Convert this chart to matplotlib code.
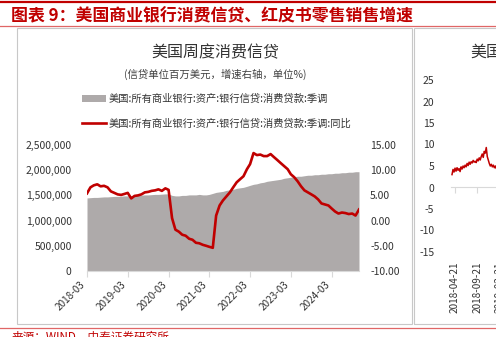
import matplotlib
matplotlib.use('Agg')
from matplotlib import pyplot as plt
from matplotlib.patches import Rectangle, Patch
from matplotlib.lines import Line2D
from matplotlib.ticker import FuncFormatter, MultipleLocator
import pandas as pd

plt.rcParams['font.family'] = ['Noto Sans CJK SC', 'DejaVu Sans']
plt.rcParams['axes.unicode_minus'] = False

RED = '#C00000'
GREY = '#AEAAAA'
LINE = '#D9D9D9'

# left chart: monthly, 2018-03 .. 2024-11
months = pd.date_range('2018-03-01', periods=81, freq='MS')
loans = [1.450, 1.455, 1.460, 1.460, 1.465, 1.470, 1.470, 1.475, 1.480, 1.480, 1.485, 1.490, 1.490,
         1.495, 1.500, 1.500, 1.505, 1.510, 1.510, 1.515, 1.520, 1.520, 1.525, 1.530, 1.530,
         1.500, 1.490, 1.490, 1.500, 1.500, 1.510, 1.510, 1.510, 1.520, 1.510, 1.510, 1.520,
         1.540, 1.560, 1.570, 1.580, 1.600, 1.610, 1.620, 1.640, 1.650, 1.660, 1.680, 1.700,
         1.720, 1.730, 1.750, 1.760, 1.780, 1.790, 1.800, 1.810, 1.820, 1.840, 1.850, 1.860,
         1.870, 1.880, 1.880, 1.890, 1.900, 1.900, 1.910, 1.910, 1.920, 1.920, 1.930, 1.930,
         1.940, 1.940, 1.950, 1.950, 1.960, 1.960, 1.970, 1.970]
loans = [v * 1e6 for v in loans]
yoy = [5.4, 6.6, 7.0, 7.2, 6.8, 6.9, 6.6, 5.8, 5.5, 5.2, 5.1, 5.3, 5.5,
       4.4, 4.9, 5.0, 5.2, 5.6, 5.7, 5.9, 6.0, 6.2, 5.9, 6.4, 6.1,
       0.5, -1.8, -2.2, -2.8, -3.0, -3.6, -3.8, -4.4, -4.5, -4.8, -5.0, -5.2,
       -5.4, 1.0, 3.0, 4.0, 4.8, 5.6, 6.6, 7.6, 8.2, 8.8, 10.2, 11.2,
       13.4, 13.0, 13.1, 12.8, 12.8, 13.2, 12.6, 12.0, 11.4, 10.8, 10.2, 9.2,
       8.6, 7.8, 6.8, 6.0, 5.6, 5.2, 4.8, 4.2, 3.4, 3.2, 3.0, 2.4,
       1.8, 1.4, 1.6, 1.5, 1.3, 1.4, 1.0, 2.2]
xticks = pd.date_range('2018-03-01', '2024-03-01', freq='12MS')

# right chart (cut off): weekly redbook yoy
weeks = pd.date_range('2018-03-31', periods=51, freq='7D')
redbook = [3.0, 4.2, 3.6, 4.5, 3.8, 4.6, 4.0, 4.4, 3.7, 4.8, 4.3, 5.0, 4.6, 5.2, 4.8, 5.6, 5.1,
           5.9, 5.4, 6.0, 5.7, 6.3, 5.9, 6.1, 5.8, 6.6, 6.2, 6.9, 6.4, 7.2, 7.8, 7.0, 8.4, 8.0,
           9.3, 7.2, 6.4, 5.6, 5.0, 5.4, 4.8, 5.2, 4.6, 5.0, 4.4, 4.9, 4.2, 4.6, 4.0, 4.5, 4.1]
rticks = pd.to_datetime(['2018-04-21', '2018-09-21', '2019-02-21', '2019-07-21'])

W, H = 496, 337
fig = plt.figure(figsize=(W / 100, H / 100), dpi=100)

def fx(px):
    return px / W

def fy(py):
    return 1 - py / H

# header / footer decoration
fig.add_artist(Line2D([0, 1], [fy(2), fy(2)], color=RED, lw=1.6, transform=fig.transFigure))
fig.add_artist(Line2D([0, 1], [fy(25.5), fy(25.5)], color='#E06666', lw=0.9, transform=fig.transFigure))
fig.add_artist(Line2D([0, 1], [fy(328), fy(328)], color='#E06666', lw=0.9, transform=fig.transFigure))
fig.text(fx(11), fy(16), '图表 9：美国商业银行消费信贷、红皮书零售销售增速', color=RED,
         fontsize=12.2, fontweight='bold', va='center', ha='left')
fig.text(fx(12), fy(331), '来源：WIND，中泰证券研究所', color=RED, fontsize=8.4, va='top', ha='left')

# panel boxes
fig.add_artist(Rectangle((fx(17), fy(324)), fx(412 - 17), (324 - 28) / H, transform=fig.transFigure,
                         fill=False, edgecolor='#C8C8C8', lw=0.8))
fig.add_artist(Rectangle((fx(414), fy(324)), fx(400), (324 - 28) / H, transform=fig.transFigure,
                         fill=False, edgecolor='#C8C8C8', lw=0.8))

# ---- left chart ----
ax = fig.add_axes([fx(87), fy(271), fx(359 - 87), (271 - 145) / H])
ax.fill_between(months, loans, 0, color=GREY, lw=0)
ax.set_xlim(months[0], months[-1])
ax.set_ylim(0, 2.5e6)
ax.yaxis.set_major_locator(MultipleLocator(5e5))
ax.yaxis.set_major_formatter(FuncFormatter(lambda v, p: '{:,.0f}'.format(v)))
ax.set_xticks(xticks)
ax.set_xticklabels([d.strftime('%Y-%m') for d in xticks], rotation=45, ha='right', fontsize=7.2)
ax.tick_params(axis='x', length=4, color=LINE, pad=2, labelcolor='#333333')
ax.tick_params(axis='y', length=0, pad=11, labelsize=7.5, labelcolor='#333333')
for s in ['top', 'left', 'right']:
    ax.spines[s].set_visible(False)
ax.spines['bottom'].set_color(LINE)

ax2 = ax.twinx()
ax2.plot(months, yoy, color=RED, lw=1.9)
ax2.set_ylim(-10, 15)
ax2.yaxis.set_major_locator(MultipleLocator(5))
ax2.yaxis.set_major_formatter(FuncFormatter(lambda v, p: '{:.2f}'.format(v)))
ax2.tick_params(axis='y', length=0, pad=8, labelsize=7.5, labelcolor='#333333')
for s in ax2.spines.values():
    s.set_visible(False)

fig.text(fx(215), fy(53), '美国周度消费信贷', fontsize=11.5, ha='center', va='center', color='#333333')
fig.text(fx(215), fy(74), '(信贷单位百万美元，增速右轴，单位%)', fontsize=7.5, ha='center', va='center',
         color='#404040')
handles = [Patch(facecolor=GREY, edgecolor='none'), Line2D([], [], color=RED, lw=1.9)]
labels = ['美国:所有商业银行:资产:银行信贷:消费贷款:季调', '美国:所有商业银行:资产:银行信贷:消费贷款:季调:同比']
fig.legend(handles, labels, loc='upper left', bbox_to_anchor=(fx(82), fy(94)), frameon=False,
           fontsize=7.4, handlelength=2.3, handleheight=0.7, handletextpad=0.25, labelspacing=1.4,
           borderpad=0, borderaxespad=0, labelcolor='#333333')

# ---- right chart (cut off by figure edge) ----
ax3 = fig.add_axes([fx(451), fy(252), 0.5, (252 - 80) / H])
ax3.plot(weeks, redbook, color=RED, lw=1.1)
ax3.set_ylim(-15, 25)
x0 = pd.Timestamp('2018-03-24')
ax3.set_xlim(x0, x0 + pd.Timedelta(days=int(248 * 6.95)))
ax3.yaxis.set_major_locator(MultipleLocator(5))
ax3.tick_params(axis='y', length=0, pad=12, labelsize=7.5, labelcolor='#333333')
ax3.set_xticks(rticks)
ax3.set_xticklabels([d.strftime('%Y-%m-%d') for d in rticks], rotation=90, fontsize=7.2, color='#333333')
ax3.tick_params(axis='x', length=0, pad=7)
for s in ax3.spines.values():
    s.set_visible(False)
sec = ax3.secondary_xaxis(15 / 40)
sec.set_xticks(rticks)
sec.set_xticklabels([])
sec.tick_params(length=4, color=LINE)
sec.spines['bottom'].set_color(LINE)
fig.text(fx(470), fy(53), '美国红皮书零售销售同比', fontsize=11.5, ha='left', va='center', color='#333333')

fig.savefig('out.png', dpi=100)
